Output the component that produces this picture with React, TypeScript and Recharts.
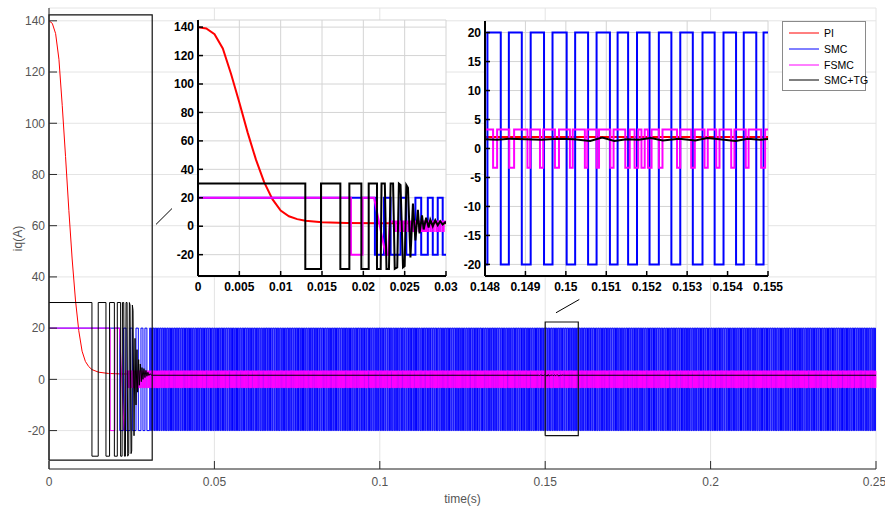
import React from 'react';
import { LineChart, Line, XAxis, YAxis, CartesianGrid } from 'recharts';

type Pt = { t: number; v: number };

const FONT = '"Liberation Sans", Arial, sans-serif';

const SERIES_NAMES = ['PI', 'SMC', 'FSMC', 'SMC+TG'];
const SERIES_COLORS = ['#ff0000', '#0000ff', '#ff00ff', '#000000'];

// PI response: smooth fall from 140 A to about 2 A
const PI_POINTS: [number, number][] = [
  [0, 140], [0.001, 139], [0.002, 135], [0.003, 125], [0.004, 107], [0.005, 87], [0.006, 66],
  [0.007, 47], [0.008, 31], [0.009, 19], [0.01, 11], [0.011, 7], [0.012, 5], [0.013, 3.8],
  [0.015, 2.8], [0.018, 2.3], [0.022, 2.1], [0.05, 2.0], [0.25, 1.95],
];

// SMC start-up (read from the left zoom window)
const SMC_START: [number, number][] = [
  [0, 20], [0.0214, 20], [0.0214, -20], [0.0225, -20], [0.0225, 20], [0.0233, 20], [0.0233, -20],
  [0.0245, -20], [0.0245, 20], [0.0252, 20], [0.0252, -20], [0.0263, -20], [0.0263, 20],
  [0.027, 20], [0.027, -20], [0.0278, -20], [0.0278, 20], [0.0284, 20], [0.0284, -20],
  [0.029, -20], [0.029, 20], [0.0296, 20], [0.0296, -20],
];
// SMC steady-state edges read in the 0.148..0.155 window (rise, fall, rise, ...)
const SMC_EDGES = [
  0.14806, 0.14839, 0.14859, 0.14891, 0.14913, 0.14946, 0.14967, 0.15002, 0.15023, 0.15055,
  0.15076, 0.15109, 0.15128, 0.15154, 0.15176, 0.15207, 0.1523, 0.15261, 0.15283, 0.15314,
  0.15338, 0.15368, 0.1539, 0.15421, 0.1544, 0.15471, 0.15489,
];
const SMC_LEVEL = 20;

// FSMC start-up
const FSMC_START: [number, number][] = [
  [0, 20], [0.0185, 20], [0.0185, -20], [0.0199, -20], [0.0199, 20], [0.0213, 20],
  [0.0227, -20], [0.023, -20], [0.0232, 3.3],
];
// FSMC low pulses read in the 0.148..0.155 window
const FSMC_PULSES: [number, number][] = [
  [0.1482, 0.1483], [0.1486, 0.14872], [0.14905, 0.14912], [0.14936, 0.14944], [0.14973, 0.14983],
  [0.1501, 0.15017], [0.15047, 0.15053], [0.15076, 0.15082], [0.1511, 0.15118], [0.15147, 0.15158],
  [0.1517, 0.15179], [0.15187, 0.15195], [0.15203, 0.15212], [0.1523, 0.15239], [0.15275, 0.15283],
  [0.1531, 0.15319], [0.15343, 0.15351], [0.15372, 0.1538], [0.15409, 0.15417], [0.15445, 0.15452],
  [0.15483, 0.15493],
];
const FSMC_LEVEL = 3.3;
const FSMC_SPAN = 0.007;

// SMC+TG
const SMC_TG_START: [number, number][] = [
  [0, 30], [0.01298, 30], [0.01298, -30], [0.01488, -30], [0.01488, 30], [0.01722, 30],
  [0.01722, -30], [0.01831, -30], [0.01831, 30], [0.01976, 30], [0.01976, -30], [0.02065, -30],
  [0.02065, 30], [0.02165, 30], [0.02165, -30], [0.0221, -30], [0.0222, 30], [0.0226, 30],
  [0.0228, -30], [0.0231, -30], [0.0233, 30], [0.0236, 30], [0.0238, -30], [0.0241, -29],
  [0.0243, 30], [0.0245, 29], [0.0248, -29], [0.025, -28], [0.0252, 29], [0.0254, 27],
  [0.0257, -22], [0.026, 16], [0.0263, -10], [0.0266, 11.6], [0.0268, -5], [0.0271, 7.7],
  [0.0273, -2.3], [0.0276, 6], [0.0279, -0.9], [0.0281, 4.6], [0.0284, 0], [0.0287, 4.2],
  [0.029, 0.7], [0.0293, 3.5], [0.0296, 1.2], [0.0299, 2.8], [0.0302, 1.5], [0.0306, 2.2],
  [0.031, 1.6], [0.06, 1.6], [0.1, 1.6],
];
const SMC_TG_RIPPLE: [number, number][] = [
  [0.148, 1.6], [0.1483, 1.5], [0.1486, 1.7], [0.149, 1.6], [0.1494, 1.5], [0.1498, 1.7],
  [0.1502, 1.6], [0.1506, 1.3], [0.1509, 1.9], [0.1512, 1.3], [0.1515, 1.6], [0.1518, 1.5],
  [0.1521, 1.8], [0.1524, 1.4], [0.1528, 1.7], [0.1532, 1.4], [0.1535, 1.8], [0.1538, 1.6],
  [0.1542, 1.3], [0.1545, 1.7], [0.1548, 1.5], [0.1551, 1.7], [0.1555, 1.6], [0.2, 1.6], [0.25, 1.6],
];

// zoom boxes [t1, t2, i1, i2] and their pointer strokes [ta, ia, tb, ib] on the main axes
const ZOOM_BOXES: [number, number, number, number][] = [
  [0, 0.0312, -31.5, 142.3],
  [0.15, 0.16, -22, 22.4],
];
const POINTERS: [number, number, number, number][] = [
  [0.03235, 60.5, 0.03718, 66.7],
  [0.15326, 26, 0.16031, 31.2],
];

const toPts = (rows: [number, number][]): Pt[] => rows.map(([t, v]) => ({ t, v }));

function buildSmc(): Pt[] {
  const pts = toPts(SMC_START);
  const span = SMC_EDGES[SMC_EDGES.length - 1] - SMC_EDGES[0];
  const edges: { t: number; up: boolean }[] = [];
  for (let k = -25; k <= 20; k++) {
    for (let i = 0; i < SMC_EDGES.length - 1; i++) {
      const t = SMC_EDGES[i] + k * span;
      if (t > 0.0299 && t < 0.25) edges.push({ t, up: i % 2 === 0 });
    }
  }
  edges.sort((a, b) => a.t - b.t);
  while (edges.length && !edges[0].up) edges.shift();
  let level = -SMC_LEVEL;
  for (const e of edges) {
    const next = e.up ? SMC_LEVEL : -SMC_LEVEL;
    pts.push({ t: e.t, v: level }, { t: e.t, v: next });
    level = next;
  }
  pts.push({ t: 0.25, v: level });
  return pts;
}

function buildFsmc(): Pt[] {
  const pts = toPts(FSMC_START);
  const pulses: [number, number][] = [];
  for (let k = -25; k <= 20; k++) {
    for (const [a, b] of FSMC_PULSES) {
      const s = a + k * FSMC_SPAN;
      const e = b + k * FSMC_SPAN;
      if (s > 0.0234 && e < 0.25) pulses.push([s, e]);
    }
  }
  pulses.sort((x, y) => x[0] - y[0]);
  for (const [s, e] of pulses) {
    pts.push({ t: s, v: FSMC_LEVEL }, { t: s, v: -FSMC_LEVEL }, { t: e, v: -FSMC_LEVEL }, { t: e, v: FSMC_LEVEL });
  }
  pts.push({ t: 0.25, v: FSMC_LEVEL });
  return pts;
}

const PI_DATA = toPts(PI_POINTS);
const SMC_DATA = buildSmc();
const FSMC_DATA = buildFsmc();
const SMC_TG_DATA = [...toPts(SMC_TG_START), ...toPts(SMC_TG_RIPPLE)];
const ALL_SERIES = [PI_DATA, SMC_DATA, FSMC_DATA, SMC_TG_DATA];

const BOX_PATHS: Pt[][] = ZOOM_BOXES.map(([t1, t2, i1, i2]) => [
  { t: t1, v: i1 }, { t: t2, v: i1 }, { t: t2, v: i2 }, { t: t1, v: i2 }, { t: t1, v: i1 },
]);
const POINTER_PATHS: Pt[][] = POINTERS.map(([ta, ia, tb, ib]) => [{ t: ta, v: ia }, { t: tb, v: ib }]);

function windowed(pts: Pt[], t0: number, t1: number): Pt[] {
  let a = pts.findIndex((p) => p.t >= t0);
  if (a < 0) return [];
  a = Math.max(0, a - 1);
  let b = a;
  while (b < pts.length - 1 && pts[b].t <= t1) b++;
  return pts.slice(a, b + 1);
}

const MAIN_X_TICKS = [0, 0.05, 0.1, 0.15, 0.2, 0.25];
const MAIN_Y_TICKS = [-20, 0, 20, 40, 60, 80, 100, 120, 140];
const INSET1_X_TICKS = [0, 0.005, 0.01, 0.015, 0.02, 0.025, 0.03];
const INSET2_X_TICKS = [0.148, 0.149, 0.15, 0.151, 0.152, 0.153, 0.154, 0.155];
const INSET2_Y_TICKS = [-20, -15, -10, -5, 0, 5, 10, 15, 20];

const mainTick = { fill: '#555', fontSize: 12, fontFamily: FONT };
const insetTick = { fill: '#000', fontSize: 12, fontWeight: 'bold', fontFamily: FONT };
const noLabel = () => '';

interface InsetProps {
  left: number;
  top: number;
  width: number;
  height: number;
  xDomain: [number, number];
  yDomain: [number, number];
  xTicks: number[];
  yTicks: number[];
}

function Inset({ left, top, width, height, xDomain, yDomain, xTicks, yTicks }: InsetProps) {
  const frame = { stroke: '#000', strokeWidth: 2 };
  const tickLine = { stroke: '#000', strokeWidth: 1.5 };
  return (
    <div style={{ position: 'absolute', left, top }}>
      <LineChart width={width} height={height} margin={{ top: 5, right: 16, bottom: 0, left: 0 }}>
        <CartesianGrid stroke="#d4d4d4" fill="#fff" />
        <XAxis type="number" dataKey="t" domain={xDomain} ticks={xTicks} allowDataOverflow
          height={24} tickSize={-5} tickMargin={11} tick={insetTick} axisLine={frame} tickLine={tickLine} />
        <XAxis xAxisId="top" orientation="top" type="number" dataKey="t" domain={xDomain} ticks={xTicks}
          height={0} tickSize={-5} tickFormatter={noLabel} axisLine={frame} tickLine={tickLine} />
        <YAxis type="number" domain={yDomain} ticks={yTicks} allowDataOverflow width={30}
          tickSize={-5} tickMargin={9} tick={insetTick} axisLine={frame} tickLine={tickLine} />
        <YAxis yAxisId="right" orientation="right" type="number" domain={yDomain} ticks={yTicks} width={0}
          tickSize={-5} tickFormatter={noLabel} axisLine={frame} tickLine={tickLine} />
        {ALL_SERIES.map((s, i) => (
          <Line key={SERIES_NAMES[i]} data={windowed(s, xDomain[0], xDomain[1])} dataKey="v" type="linear"
            stroke={SERIES_COLORS[i]} strokeWidth={2} dot={false} activeDot={false} isAnimationActive={false} />
        ))}
      </LineChart>
    </div>
  );
}

function LegendBox() {
  return (
    <div style={{
      position: 'absolute', left: 782, top: 21, width: 82, height: 68, background: '#fff',
      border: '1px solid #8a8a8a', fontFamily: FONT, fontSize: 10.5, color: '#000',
    }}>
      {SERIES_NAMES.map((name, i) => (
        <div key={name} style={{ position: 'absolute', left: 5, top: 4 + i * 15.8, height: 14, display: 'flex', alignItems: 'center' }}>
          <svg width={32} height={4}><line x1={1} y1={2} x2={31} y2={2} stroke={SERIES_COLORS[i]} strokeWidth={1} /></svg>
          <span style={{ marginLeft: 4 }}>{name}</span>
        </div>
      ))}
    </div>
  );
}

export default function App() {
  const axisColor = '#2b2b2b';
  return (
    <div style={{ position: 'absolute', left: 0, top: 0, width: 885, height: 513, background: '#fff', overflow: 'hidden' }}>
      <LineChart width={885} height={513} margin={{ top: 8, right: 9, bottom: 0, left: 9 }}>
        <CartesianGrid stroke="#e4e4e4" />
        <XAxis type="number" dataKey="t" domain={[0, 0.25]} ticks={MAIN_X_TICKS} height={44}
          tickSize={-8} tickMargin={16} tick={mainTick} axisLine={{ stroke: axisColor }} tickLine={{ stroke: axisColor }}
          label={{ value: 'time(s)', position: 'insideBottom', offset: 10, style: { fill: '#555', fontSize: 12, fontFamily: FONT } }} />
        <XAxis xAxisId="top" orientation="top" type="number" dataKey="t" domain={[0, 0.25]} ticks={MAIN_X_TICKS}
          height={0} tickSize={-8} tickFormatter={noLabel} axisLine={{ stroke: axisColor }} tickLine={{ stroke: axisColor }} />
        <YAxis type="number" domain={[-35, 145]} ticks={MAIN_Y_TICKS} width={40}
          tickSize={-8} tickMargin={12} tick={mainTick} axisLine={{ stroke: axisColor }} tickLine={{ stroke: axisColor }}
          label={{ value: 'iq(A)', angle: -90, position: 'insideLeft', offset: 9, style: { fill: '#555', fontSize: 12, fontFamily: FONT, textAnchor: 'middle' } }} />
        <YAxis yAxisId="right" orientation="right" type="number" domain={[-35, 145]} ticks={MAIN_Y_TICKS} width={0}
          tickSize={-8} tickFormatter={noLabel} axisLine={{ stroke: axisColor }} tickLine={{ stroke: axisColor }} />
        {ALL_SERIES.map((s, i) => (
          <Line key={SERIES_NAMES[i]} data={s} dataKey="v" type="linear" stroke={SERIES_COLORS[i]}
            strokeWidth={1} dot={false} activeDot={false} isAnimationActive={false} />
        ))}
        {BOX_PATHS.map((s, i) => (
          <Line key={`box-${i}`} data={s} dataKey="v" type="linear" stroke="#111" strokeWidth={1.2}
            dot={false} activeDot={false} isAnimationActive={false} legendType="none" />
        ))}
        {POINTER_PATHS.map((s, i) => (
          <Line key={`ptr-${i}`} data={s} dataKey="v" type="linear" stroke="#000" strokeWidth={1}
            dot={false} activeDot={false} isAnimationActive={false} legendType="none" />
        ))}
      </LineChart>
      <Inset left={168} top={15} width={294} height={285} xDomain={[0, 0.03]} yDomain={[-35, 145]}
        xTicks={INSET1_X_TICKS} yTicks={MAIN_Y_TICKS} />
      <Inset left={455} top={16} width={329} height={284} xDomain={[0.148, 0.155]} yDomain={[-22, 22]}
        xTicks={INSET2_X_TICKS} yTicks={INSET2_Y_TICKS} />
      <LegendBox />
    </div>
  );
}
